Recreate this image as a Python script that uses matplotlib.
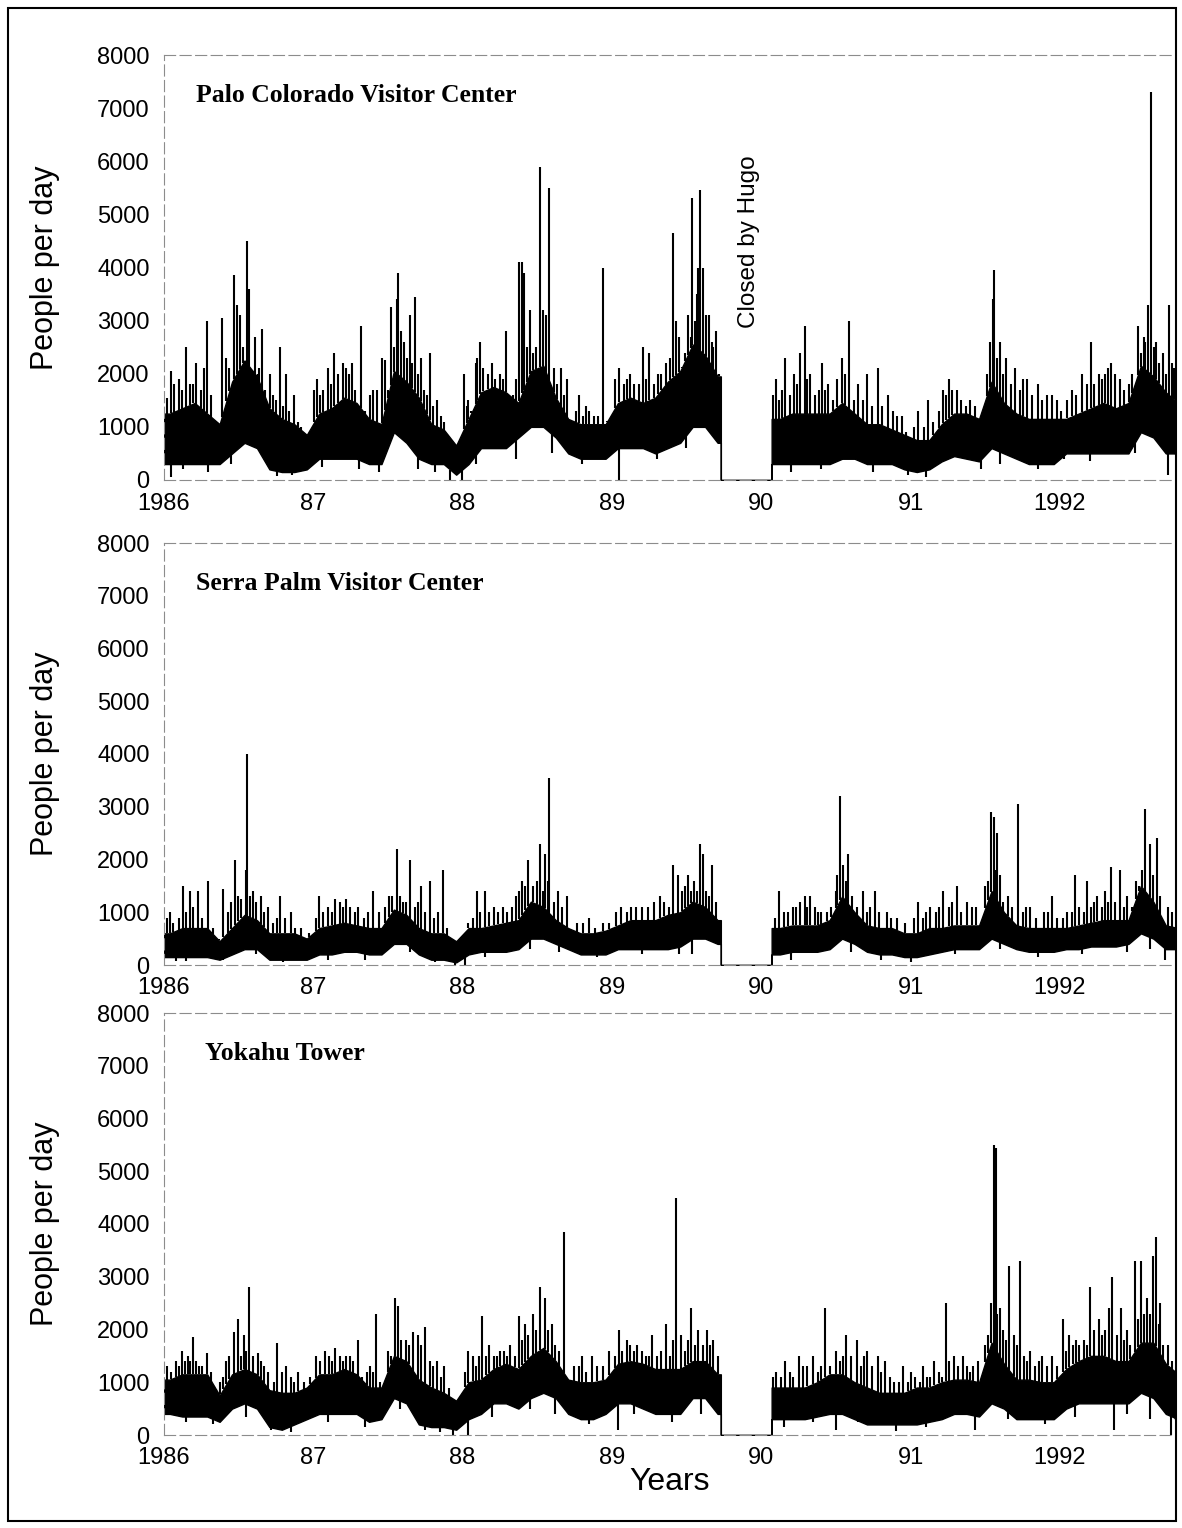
import numpy as np
import matplotlib
matplotlib.use("Agg")
import matplotlib.pyplot as plt
from matplotlib.patches import Rectangle

# monthly centres, Jan 1986 .. Oct 1992
years = [1986, 1987, 1988, 1989, 1990, 1991, 1992]
tick_years = [1986, 1987, 1988, 1989, 1990, 1991, 1992]
tick_labels = ["1986", "87", "88", "89", "90", "91", "1992"]
y_ticks = [0, 1000, 2000, 3000, 4000, 5000, 6000, 7000, 8000]
closed_hugo = (1989.73, 1990.07)   # all three sites shut after hurricane Hugo

# ---- Palo Colorado Visitor Center: monthly lower / upper edge of the dense band
palo_low = [300, 300, 300, 300, 300, 500, 700, 600, 200, 150, 150, 200,
            400, 400, 400, 400, 300, 300, 900, 700, 400, 300, 300, 100,
            300, 600, 600, 600, 800, 1000, 1000, 800, 500, 400, 400, 400,
            600, 600, 600, 500, 600, 700, 1000, 1000, 700, 0, 0, 0,
            0, 300, 300, 300, 300, 300, 400, 400, 300, 300, 300, 200,
            150, 200, 350, 450, 400, 350, 600, 500, 400, 300, 300, 300,
            500, 500, 500, 500, 500, 500, 900, 800, 500, 500]
palo_high = [1250, 1350, 1450, 1250, 1050, 1850, 2250, 1950, 1350, 1150, 1050, 850,
             1250, 1350, 1550, 1450, 1150, 1050, 2050, 1850, 1550, 1050, 950, 650,
             1150, 1650, 1750, 1650, 1450, 2050, 2150, 1550, 1150, 1050, 1050, 1050,
             1450, 1550, 1450, 1550, 1850, 2050, 2550, 2350, 1950, 0, 0, 0,
             0, 1150, 1250, 1250, 1250, 1250, 1450, 1250, 1050, 1050, 950, 850,
             750, 750, 1050, 1250, 1250, 1150, 1850, 1450, 1250, 1150, 1150, 1150,
             1150, 1250, 1350, 1450, 1350, 1450, 2150, 1950, 1650, 1450]
palo_spike_x = [1986.05, 1986.10, 1986.15, 1986.22, 1986.27, 1986.29, 1986.39, 1986.42,
                1986.47, 1986.49, 1986.51, 1986.56, 1986.57, 1986.61, 1986.66, 1986.71,
                1986.78, 1986.82, 1986.87, 1987.03, 1987.10, 1987.14, 1987.20, 1987.26,
                1987.32, 1987.40, 1987.46, 1987.48, 1987.52, 1987.56, 1987.57, 1987.61,
                1987.65, 1987.68, 1987.72, 1987.78, 1987.83, 1988.01, 1988.04, 1988.12,
                1988.20, 1988.25, 1988.29, 1988.36, 1988.38, 1988.40, 1988.41, 1988.45,
                1988.52, 1988.54, 1988.58, 1988.61, 1988.66, 1988.70, 1988.78, 1988.85,
                1988.94, 1989.05, 1989.12, 1989.21, 1989.25, 1989.31, 1989.39, 1989.41,
                1989.43, 1989.51, 1989.54, 1989.57, 1989.58, 1989.59, 1989.61, 1989.65,
                1989.70, 1990.10, 1990.16, 1990.22, 1990.26, 1990.29, 1990.33, 1990.41,
                1990.45, 1990.54, 1990.59, 1990.65, 1990.71, 1990.78, 1990.85, 1990.94,
                1991.05, 1991.12, 1991.22, 1991.26, 1991.31, 1991.40, 1991.53, 1991.55,
                1991.56, 1991.60, 1991.64, 1991.70, 1991.78, 1991.85, 1991.95, 1992.08,
                1992.15, 1992.21, 1992.26, 1992.30, 1992.34, 1992.40, 1992.46, 1992.52,
                1992.56, 1992.59, 1992.61, 1992.64, 1992.69, 1992.73, 1992.75]
palo_spike_y = [2050, 1900, 2500, 2200, 2100, 3000, 3050, 2300,
                3850, 3300, 3100, 4500, 3600, 2700, 2850, 2000,
                2500, 2000, 1600, 1900, 2100, 2400, 2200, 2200,
                2900, 1700, 2300, 2250, 3250, 3400, 3900, 2600,
                3100, 3450, 2300, 2400, 1500, 2000, 1500, 2600,
                2200, 2000, 2800, 1900, 4100, 4100, 3900, 3200,
                5900, 3200, 5500, 2100, 2100, 1900, 1600, 1300,
                4000, 2100, 2000, 2500, 2400, 2000, 2300, 4650,
                3000, 3100, 5300, 3500, 4000, 5450, 4000, 3100,
                2800, 1900, 2300, 2000, 2400, 2900, 2000, 2200,
                1800, 2300, 3000, 1800, 2000, 2100, 1600, 1200,
                1300, 1500, 1700, 1900, 1700, 1500, 2600, 3400,
                3950, 2600, 2300, 2100, 1900, 1800, 1600, 1700,
                2000, 2600, 2000, 2000, 2200, 1900, 1800, 2900,
                2700, 3300, 7300, 2600, 2400, 3300, 2200]
palo_mid_x = [1986.02, 1986.07, 1986.12, 1986.18, 1986.20, 1986.25, 1986.32, 1986.34,
              1986.36, 1986.44, 1986.53, 1986.59, 1986.63, 1986.64, 1986.68, 1986.73,
              1986.75, 1986.80, 1986.84, 1986.90, 1986.92, 1986.97,
              1987.01, 1987.05, 1987.07, 1987.12, 1987.17, 1987.22, 1987.24, 1987.28,
              1987.35, 1987.38, 1987.43, 1987.50, 1987.54, 1987.59, 1987.63, 1987.66,
              1987.70, 1987.74, 1987.76, 1987.80, 1987.86, 1987.88, 1987.90,
              1988.03, 1988.06, 1988.09, 1988.10, 1988.14, 1988.17, 1988.22, 1988.27,
              1988.32, 1988.34, 1988.43, 1988.47, 1988.49, 1988.56, 1988.60, 1988.63,
              1988.68, 1988.76, 1988.81, 1988.83, 1988.88, 1988.91, 1988.97,
              1989.02, 1989.08, 1989.10, 1989.15, 1989.18, 1989.23, 1989.28, 1989.33,
              1989.36, 1989.45, 1989.47, 1989.49, 1989.53, 1989.56, 1989.63, 1989.67,
              1989.68, 1989.72,
              1990.08, 1990.12, 1990.14, 1990.19, 1990.24, 1990.31, 1990.36, 1990.39,
              1990.43, 1990.48, 1990.51, 1990.56, 1990.62, 1990.68, 1990.74, 1990.81,
              1990.88, 1990.91, 1990.97,
              1991.02, 1991.09, 1991.15, 1991.19, 1991.24, 1991.28, 1991.34, 1991.37,
              1991.43, 1991.51, 1991.58, 1991.62, 1991.67, 1991.73, 1991.75, 1991.81,
              1991.88, 1991.91, 1991.98,
              1992.01, 1992.05, 1992.11, 1992.18, 1992.23, 1992.28, 1992.32, 1992.37,
              1992.43, 1992.48, 1992.54, 1992.57, 1992.63, 1992.66, 1992.71, 1992.76]
palo_mid_y = [1550, 1800, 1700, 1800, 1800, 1700, 1600, 900,
              700, 2100, 2500, 2000, 2000, 2100, 1700, 1600,
              1500, 1400, 1300, 1100, 1000, 900,
              1700, 1600, 1700, 1800, 2000, 2100, 2000, 1700,
              1300, 1600, 1700, 1700, 2500, 2800, 2300, 2200,
              2000, 1700, 1600, 1400, 1200, 1100, 800,
              1400, 1300, 2200, 2300, 2100, 2000, 1900, 1900,
              1500, 1600, 2500, 2400, 2500, 3100, 1600, 1800,
              1600, 1300, 1200, 1400, 1200, 1200, 1100,
              1900, 1800, 1900, 1800, 1800, 1900, 1800, 2000,
              2200, 2700, 2100, 2400, 2700, 3000, 3100, 2600,
              2500, 2000,
              1600, 1500, 1700, 1600, 1800, 1900, 1600, 1700,
              1700, 1500, 1900, 2000, 1500, 1500, 1400, 1400,
              1300, 1200, 900,
              1000, 1000, 1100, 1300, 1600, 1700, 1500, 1400,
              1400, 2000, 2300, 2000, 1800, 1700, 1900, 1600,
              1500, 1600, 1500,
              1300, 1500, 1600, 1800, 1800, 1900, 2100, 2000,
              1700, 2000, 2400, 2600, 2500, 2200, 2000, 2100]
palo_dip_x = [1986.05, 1986.13, 1986.30, 1986.45, 1986.76, 1986.86, 1987.06, 1987.31,
              1987.44, 1987.70, 1987.82, 1987.92, 1988.00, 1988.09, 1988.36, 1988.60,
              1988.80, 1989.05, 1989.30, 1989.50, 1990.20, 1990.40, 1990.75, 1990.98,
              1991.10, 1991.47, 1991.60, 1991.85, 1992.03, 1992.20, 1992.50, 1992.72]
palo_dip_y = [60, 200, 150, 300, 80, 100, 250, 200,
              150, 200, 150, 0, 0, 300, 400, 500,
              300, 0, 400, 600, 150, 200, 150, 100,
              50, 200, 300, 200, 400, 350, 500, 100]

# ---- Serra Palm Visitor Center
serra_low = [150, 150, 150, 150, 100, 200, 300, 300, 100, 100, 100, 100,
             200, 200, 250, 250, 200, 200, 400, 400, 200, 100, 100, 50,
             200, 250, 250, 250, 300, 500, 500, 400, 300, 200, 200, 200,
             300, 300, 300, 300, 300, 350, 500, 500, 400, 0, 0, 0,
             0, 200, 250, 250, 250, 300, 500, 400, 250, 200, 200, 150,
             150, 200, 250, 300, 300, 300, 500, 400, 300, 250, 250, 250,
             300, 300, 350, 350, 350, 400, 600, 500, 300, 300]
serra_high = [600, 700, 700, 700, 450, 700, 950, 850, 600, 600, 600, 500,
              700, 750, 800, 750, 700, 700, 1050, 950, 700, 600, 600, 450,
              700, 700, 750, 800, 850, 1200, 1100, 850, 700, 600, 600, 650,
              750, 850, 850, 850, 950, 1000, 1200, 1100, 850, 0, 0, 0,
              0, 700, 750, 750, 750, 850, 1300, 1000, 750, 700, 700, 600,
              600, 700, 700, 750, 750, 750, 1400, 1000, 750, 700, 700, 700,
              700, 750, 800, 850, 850, 850, 1500, 1200, 750, 700]
serra_spike_x = [1986.04, 1986.13, 1986.18, 1986.23, 1986.30, 1986.40, 1986.48, 1986.52,
                 1986.55, 1986.56, 1986.60, 1986.65, 1986.70, 1986.78, 1986.85, 1987.04,
                 1987.15, 1987.22, 1987.30, 1987.40, 1987.48, 1987.53, 1987.56, 1987.60,
                 1987.65, 1987.72, 1987.78, 1987.87, 1988.10, 1988.15, 1988.27, 1988.36,
                 1988.40, 1988.44, 1988.50, 1988.52, 1988.55, 1988.58, 1988.64, 1988.70,
                 1988.85, 1989.10, 1989.20, 1989.32, 1989.41, 1989.44, 1989.51, 1989.55,
                 1989.59, 1989.61, 1989.67, 1990.12, 1990.23, 1990.29, 1990.33, 1990.40,
                 1990.50, 1990.53, 1990.55, 1990.58, 1990.68, 1990.76, 1990.84, 1991.05,
                 1991.13, 1991.22, 1991.31, 1991.38, 1991.52, 1991.54, 1991.56, 1991.58,
                 1991.65, 1991.72, 1991.80, 1991.95, 1992.05, 1992.10, 1992.18, 1992.25,
                 1992.30, 1992.34, 1992.40, 1992.45, 1992.53, 1992.57, 1992.60, 1992.65,
                 1992.72]
serra_spike_y = [1000, 1500, 1400, 1400, 1600, 1450, 2000, 1250,
                 1800, 4000, 1400, 1300, 1100, 1300, 1000, 1300,
                 1250, 1250, 1100, 1400, 1100, 1300, 2200, 1200,
                 2000, 1500, 1600, 1800, 1400, 1400, 1100, 1300,
                 1600, 2000, 1600, 2300, 2100, 3550, 1400, 1300,
                 900, 1000, 1100, 1300, 1900, 1700, 1700, 1600,
                 2300, 2100, 1900, 1400, 1100, 1300, 1300, 1000,
                 1400, 3200, 1900, 2100, 1400, 1400, 1000, 1200,
                 1100, 1400, 1500, 1200, 1600, 2900, 2800, 2500,
                 1300, 3050, 1100, 1300, 1000, 1700, 1600, 1300,
                 1400, 1850, 1800, 1300, 1500, 2950, 2300, 2400,
                 1100]
serra_mid_x = [1986.02, 1986.06, 1986.10, 1986.15, 1986.20, 1986.26, 1986.33, 1986.37,
               1986.43, 1986.45, 1986.50, 1986.58, 1986.62, 1986.67, 1986.73, 1986.76,
               1986.81, 1986.88, 1986.92, 1986.97,
               1987.02, 1987.07, 1987.10, 1987.13, 1987.18, 1987.20, 1987.25, 1987.28,
               1987.34, 1987.37, 1987.44, 1987.51, 1987.58, 1987.62, 1987.68, 1987.70,
               1987.75, 1987.81, 1987.84, 1987.90,
               1988.04, 1988.07, 1988.12, 1988.18, 1988.21, 1988.24, 1988.30, 1988.33,
               1988.38, 1988.42, 1988.47, 1988.54, 1988.57, 1988.61, 1988.67, 1988.77,
               1988.81, 1988.89, 1988.94, 1988.98,
               1989.03, 1989.06, 1989.13, 1989.16, 1989.24, 1989.28, 1989.35, 1989.38,
               1989.47, 1989.49, 1989.53, 1989.57, 1989.63, 1989.65, 1989.70,
               1990.09, 1990.15, 1990.18, 1990.21, 1990.26, 1990.31, 1990.36, 1990.38,
               1990.44, 1990.47, 1990.51, 1990.57, 1990.61, 1990.64, 1990.71, 1990.73,
               1990.79, 1990.87, 1990.91, 1990.96,
               1991.02, 1991.08, 1991.10, 1991.17, 1991.19, 1991.26, 1991.28, 1991.34,
               1991.41, 1991.44, 1991.50, 1991.57, 1991.60, 1991.62, 1991.68, 1991.75,
               1991.77, 1991.84, 1991.89, 1991.92, 1991.98,
               1992.02, 1992.08, 1992.13, 1992.16, 1992.21, 1992.23, 1992.28, 1992.32,
               1992.37, 1992.43, 1992.48, 1992.51, 1992.55, 1992.62, 1992.67, 1992.75]
serra_mid_y = [900, 800, 900, 1000, 1100, 900, 700, 500,
               1000, 1200, 1300, 1300, 1200, 1000, 800, 900,
               900, 700, 700, 600,
               900, 1000, 1100, 1000, 1200, 1100, 1100, 1000,
               900, 1000, 1000, 1300, 1300, 1200, 1100, 1200,
               1000, 900, 1000, 700,
               800, 900, 1000, 1000, 1100, 1000, 1000, 1100,
               1400, 1500, 1500, 1400, 1600, 1200, 1100, 800,
               800, 700, 800, 800,
               1000, 1100, 1100, 1100, 1100, 1200, 1200, 1100,
               1400, 1500, 1400, 1400, 1400, 1300, 1200,
               900, 1000, 1000, 1100, 1200, 1100, 1100, 1000,
               1000, 1100, 1700, 1600, 1300, 1100, 1000, 1100,
               1000, 900, 900, 800,
               900, 900, 1000, 1000, 1100, 1100, 1200, 1000,
               1100, 1100, 1500, 1800, 1700, 1200, 1100, 1000,
               1100, 900, 1000, 1000, 900,
               900, 1000, 1100, 1000, 1100, 1200, 1100, 1200,
               1200, 1100, 1100, 1600, 1800, 1700, 1300, 1000]
serra_dip_x = [1986.08, 1986.15, 1986.40, 1986.62, 1986.80, 1987.10, 1987.35, 1987.65,
               1987.82, 1987.95, 1988.02, 1988.15, 1988.45, 1988.65, 1988.90, 1989.20,
               1989.45, 1989.54, 1990.20, 1990.60, 1990.80, 1991.00, 1991.30, 1991.60,
               1991.85, 1992.15, 1992.45, 1992.60, 1992.70]
serra_dip_y = [80, 80, 100, 200, 50, 100, 100, 250,
               50, 0, 0, 150, 300, 250, 150, 200,
               200, 200, 100, 250, 100, 50, 200, 300,
               150, 200, 250, 300, 100]

# ---- Yokahu Tower
yoka_low = [400, 350, 350, 350, 250, 500, 600, 500, 150, 100, 200, 300,
            400, 400, 400, 400, 250, 300, 700, 600, 200, 150, 150, 100,
            300, 400, 600, 600, 500, 700, 800, 700, 400, 300, 300, 400,
            600, 600, 500, 400, 400, 400, 700, 700, 400, 0, 0, 0,
            0, 300, 300, 300, 350, 400, 400, 300, 200, 200, 200, 200,
            200, 250, 300, 400, 400, 350, 600, 500, 300, 300, 300, 300,
            500, 600, 600, 600, 600, 600, 800, 700, 400, 300]
yoka_high = [1050, 1150, 1150, 1150, 750, 1150, 1250, 1150, 850, 800, 800, 900,
             1150, 1150, 1250, 1150, 900, 900, 1500, 1400, 1050, 900, 800, 650,
             1000, 1050, 1250, 1350, 1250, 1500, 1650, 1400, 1050, 1000, 1000, 1050,
             1350, 1400, 1350, 1250, 1250, 1250, 1400, 1400, 1150, 0, 0, 0,
             0, 900, 900, 900, 1000, 1150, 1150, 1000, 900, 800, 800, 800,
             900, 900, 1000, 1050, 1050, 1000, 1750, 1350, 1050, 1050, 1000, 1000,
             1250, 1400, 1500, 1500, 1400, 1400, 1750, 1750, 1350, 1150]
yoka_spike_x = [1986.08, 1986.12, 1986.16, 1986.20, 1986.26, 1986.29, 1986.38, 1986.42,
                1986.47, 1986.50, 1986.54, 1986.57, 1986.63, 1986.67, 1986.76, 1986.82,
                1986.90, 1987.02, 1987.08, 1987.15, 1987.22, 1987.30, 1987.38, 1987.42,
                1987.52, 1987.55, 1987.57, 1987.62, 1987.67, 1987.70, 1987.75, 1987.83,
                1987.88, 1988.04, 1988.07, 1988.13, 1988.18, 1988.25, 1988.32, 1988.38,
                1988.42, 1988.47, 1988.52, 1988.55, 1988.60, 1988.68, 1988.80, 1988.87,
                1988.98, 1989.05, 1989.10, 1989.20, 1989.27, 1989.36, 1989.43, 1989.46,
                1989.53, 1989.58, 1989.64, 1989.68, 1990.10, 1990.16, 1990.25, 1990.35,
                1990.43, 1990.50, 1990.57, 1990.64, 1990.71, 1990.78, 1990.83, 1990.95,
                1991.00, 1991.08, 1991.16, 1991.24, 1991.29, 1991.35, 1991.42, 1991.50,
                1991.54, 1991.56, 1991.57, 1991.60, 1991.66, 1991.69, 1991.73, 1991.80,
                1991.88, 1991.95, 1992.02, 1992.06, 1992.13, 1992.20, 1992.26, 1992.33,
                1992.35, 1992.41, 1992.45, 1992.50, 1992.54, 1992.58, 1992.62, 1992.64,
                1992.67, 1992.72]
yoka_spike_y = [1400, 1600, 1500, 1850, 1300, 1550, 1000, 1400,
                1950, 2200, 1900, 2800, 1550, 1300, 1750, 1300,
                1200, 1500, 1600, 1650, 1500, 1800, 1300, 2300,
                1500, 2600, 2450, 1800, 1950, 1900, 2050, 1400,
                1300, 1600, 1500, 2250, 1700, 1600, 1700, 2250,
                2100, 2300, 2800, 2600, 2100, 3850, 1500, 1500,
                1600, 2000, 1800, 1600, 1900, 2100, 4500, 1900,
                2400, 2000, 2000, 1800, 1200, 1400, 1500, 1500,
                2400, 1600, 1900, 1800, 1600, 1500, 1400, 1300,
                1200, 1300, 1400, 2500, 1500, 1500, 1300, 1700,
                2500, 5500, 5450, 2400, 3200, 1900, 3300, 1600,
                1500, 1500, 2200, 1900, 1700, 2800, 2200, 2400,
                3000, 2400, 2000, 3300, 3300, 2600, 3400, 3750,
                2500, 1700]
yoka_mid_x = [1986.02, 1986.05, 1986.10, 1986.14, 1986.18, 1986.22, 1986.24, 1986.32,
              1986.35, 1986.40, 1986.44, 1986.52, 1986.55, 1986.60, 1986.65, 1986.70,
              1986.74, 1986.79, 1986.85, 1986.87, 1986.94, 1986.98,
              1987.05, 1987.11, 1987.13, 1987.18, 1987.20, 1987.25, 1987.27, 1987.33,
              1987.36, 1987.40, 1987.45, 1987.50, 1987.59, 1987.64, 1987.72, 1987.78,
              1987.80, 1987.86, 1987.91,
              1988.02, 1988.09, 1988.11, 1988.16, 1988.21, 1988.23, 1988.28, 1988.30,
              1988.35, 1988.40, 1988.44, 1988.49, 1988.57, 1988.62, 1988.65, 1988.75,
              1988.78, 1988.83, 1988.90, 1988.94,
              1989.02, 1989.07, 1989.12, 1989.15, 1989.17, 1989.23, 1989.25, 1989.30,
              1989.33, 1989.39, 1989.41, 1989.49, 1989.51, 1989.56, 1989.61, 1989.66,
              1989.71,
              1990.08, 1990.13, 1990.19, 1990.21, 1990.28, 1990.31, 1990.38, 1990.40,
              1990.46, 1990.53, 1990.55, 1990.60, 1990.67, 1990.69, 1990.74, 1990.80,
              1990.86, 1990.89, 1990.92, 1990.98,
              1991.03, 1991.06, 1991.11, 1991.13, 1991.19, 1991.21, 1991.26, 1991.32,
              1991.38, 1991.40, 1991.45, 1991.52, 1991.58, 1991.62, 1991.64, 1991.71,
              1991.76, 1991.78, 1991.83, 1991.86, 1991.91, 1991.98,
              1992.04, 1992.09, 1992.11, 1992.16, 1992.18, 1992.23, 1992.28, 1992.30,
              1992.38, 1992.43, 1992.47, 1992.52, 1992.56, 1992.60, 1992.66, 1992.69,
              1992.75]
yoka_mid_y = [1300, 1200, 1300, 1400, 1400, 1400, 1300, 1200,
              800, 1100, 1500, 1500, 1600, 1500, 1400, 1200,
              1000, 1200, 1100, 1000, 1000, 1100,
              1400, 1500, 1400, 1500, 1400, 1500, 1400, 1100,
              1200, 1200, 1000, 1600, 1800, 1700, 1700, 1400,
              1300, 1100, 900,
              1200, 1300, 1500, 1500, 1500, 1500, 1600, 1500,
              1500, 1800, 1900, 2000, 2000, 1700, 1600, 1300,
              1300, 1200, 1300, 1300,
              1500, 1600, 1700, 1600, 1700, 1500, 1500, 1500,
              1600, 1500, 1800, 1600, 1800, 1700, 1700, 1700,
              1500,
              1100, 1100, 1200, 1100, 1300, 1300, 1200, 1300,
              1300, 1400, 1500, 1500, 1300, 1500, 1300, 1200,
              1100, 1000, 1000, 1000,
              1100, 1000, 1100, 1100, 1200, 1100, 1400, 1300,
              1300, 1200, 1400, 1900, 2300, 2000, 1800, 1700,
              1500, 1400, 1300, 1400, 1300, 1300,
              1600, 1700, 1800, 1800, 1700, 2000, 1900, 2000,
              1900, 1800, 1700, 2200, 2300, 2300, 2100, 1700,
              1400]
yoka_dip_x = [1986.15, 1986.33, 1986.55, 1986.72, 1986.85, 1987.10, 1987.35, 1987.58,
              1987.75, 1987.85, 1987.94, 1988.04, 1988.20, 1988.45, 1988.62, 1988.85,
              1989.04, 1989.15, 1989.40, 1989.60, 1990.15, 1990.35, 1990.50, 1990.65,
              1990.90, 1991.10, 1991.43, 1991.65, 1991.90, 1992.10, 1992.36, 1992.45,
              1992.60, 1992.74]
yoka_dip_y = [250, 200, 350, 100, 50, 250, 150, 500,
              100, 50, 0, 0, 350, 500, 400, 200,
              100, 400, 250, 400, 150, 250, 100, 250,
              80, 150, 100, 300, 200, 350, 100, 400,
              300, 0]

panel_titles = ["Palo Colorado Visitor Center", "Serra Palm Visitor Center", "Yokahu Tower"]

W, H = 1182, 1528
SANS = "Liberation Sans"
SERIF = "Liberation Serif"
X_MIN, X_MAX = 1986.0, 1992.77

month_x = np.array([y + (m + 0.5) / 12.0 for y in years for m in range(12)])[:len(palo_low)]


def band_outline(low, high):
    """Monthly band with vertical edges at the Hugo closure and at the axis ends."""
    lo = np.asarray(low, dtype=float)
    hi = np.asarray(high, dtype=float)
    start, end = closed_hugo
    pre = month_x < start
    post = month_x > end
    i_pre = np.where(pre)[0][-1]
    i_post = np.where(post)[0][0]
    xs = np.concatenate([[X_MIN], month_x[pre], [start, start, end, end], month_x[post], [X_MAX]])
    los = np.concatenate([[lo[0]], lo[pre], [lo[i_pre], 0, 0, lo[i_post]], lo[post], [lo[-1]]])
    his = np.concatenate([[hi[0]], hi[pre], [hi[i_pre], 0, 0, hi[i_post]], hi[post], [hi[-1]]])
    return xs, los, his


def draw_panel(ax, low, high, spike_x, spike_y, mid_x, mid_y, dip_x, dip_y, title, title_x):
    xs, los, his = band_outline(low, high)
    ax.fill_between(xs, los, his, color="black", linewidth=1.0, edgecolor="black")

    up_x = np.concatenate([mid_x, spike_x])
    up_y = np.concatenate([mid_y, spike_y])
    ax.vlines(up_x, np.interp(up_x, xs, his), up_y, color="black", linewidth=1.5)
    ax.vlines(dip_x, dip_y, np.interp(dip_x, xs, los), color="black", linewidth=1.5)

    ax.set_xlim(X_MIN, X_MAX)
    ax.set_ylim(0, 8000)
    ax.set_xticks(tick_years)
    ax.set_xticklabels(tick_labels)
    ax.set_yticks(y_ticks)
    ax.tick_params(axis="both", length=0, labelsize=17)
    ax.tick_params(axis="x", pad=9)
    ax.tick_params(axis="y", pad=10)
    for lab in ax.get_xticklabels() + ax.get_yticklabels():
        lab.set_fontfamily(SANS)

    for side in ["top", "bottom", "left"]:
        ax.spines[side].set_color("#8c8c8c")
        ax.spines[side].set_linewidth(0.8)
        ax.spines[side].set_linestyle((0, (10, 4)))
    ax.spines["right"].set_visible(False)

    ax.set_ylabel("People per day", fontsize=22, family=SANS)
    ax.yaxis.set_label_coords(-0.102, 0.5)
    ax.text(title_x, 7230, title, fontsize=18.5, fontweight="bold",
            family=SERIF, ha="left", va="center")


fig = plt.figure(figsize=(W / 100, H / 100), dpi=100)
fig.patch.set_facecolor("white")

left = 163.6 / W
width = (1175 - 163.6) / W
panel_px = [(55, 480), (543, 965), (1013, 1435)]
axes = []
for top_px, bot_px in panel_px:
    axes.append(fig.add_axes([left, 1 - bot_px / H, width, (bot_px - top_px) / H]))

draw_panel(axes[0], palo_low, palo_high, palo_spike_x, palo_spike_y,
           palo_mid_x, palo_mid_y, palo_dip_x, palo_dip_y, panel_titles[0], 1986.22)
draw_panel(axes[1], serra_low, serra_high, serra_spike_x, serra_spike_y,
           serra_mid_x, serra_mid_y, serra_dip_x, serra_dip_y, panel_titles[1], 1986.22)
draw_panel(axes[2], yoka_low, yoka_high, yoka_spike_x, yoka_spike_y,
           yoka_mid_x, yoka_mid_y, yoka_dip_x, yoka_dip_y, panel_titles[2], 1986.28)

axes[0].text(1989.92, 4480, "Closed by Hugo", rotation=90, fontsize=17.5,
             family=SANS, ha="center", va="center")

fig.text(670 / W, 1 - 1482 / H, "Years", fontsize=23, family=SANS,
         ha="center", va="center")

# outer frame of the figure
fig.add_artist(Rectangle((8 / W, 1 - 1521 / H), (1176 - 8) / W, (1521 - 8) / H,
                         transform=fig.transFigure, fill=False,
                         edgecolor="black", linewidth=1.5))

fig.savefig("out.png", dpi=100)
